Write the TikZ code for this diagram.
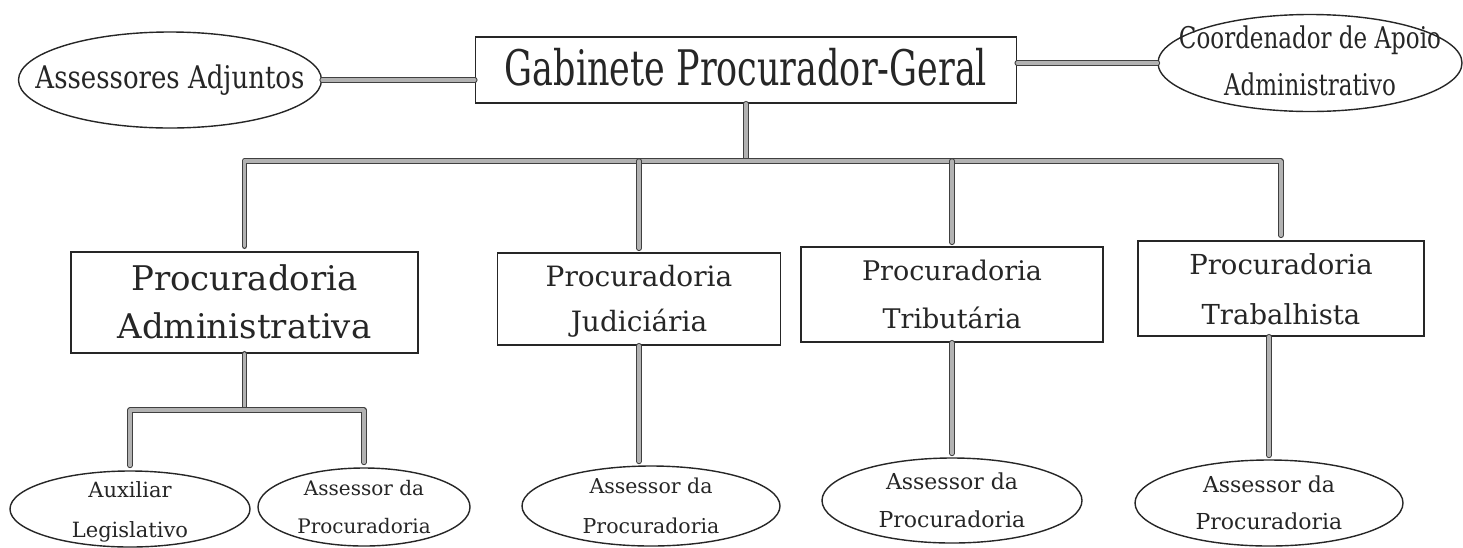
\documentclass[tikz,border=0pt]{standalone}
\usepackage{fontspec}
\usepackage{graphicx}
\setmainfont{DejaVu Serif}
\usetikzlibrary{shapes.geometric}
% #1 size, #2 line spacing, #3 vertical stretch, #4 text
\newcommand{\lbl}[4]{{\fontsize{#1}{#2}\selectfont\makebox[0pt]{\smash{\raisebox{-#3\dimexpr.25em\relax}{\scalebox{1}[#3]{\begin{tabular}{@{}c@{}}#4\end{tabular}}}}}}}
\tikzset{
  boxnode/.style={draw=black!85, line width=1.6pt, rectangle, inner sep=0pt, text=black!85},
  ellnode/.style={draw=black!85, line width=1.4pt, ellipse, inner sep=0pt, text=black!85},
  conn/.style={draw=black!75, line width=1.1pt, double=black!30, double distance=3.5pt, line cap=round, line join=round},
  gap/.style={shorten >=4pt}
}
\begin{document}
\begin{tikzpicture}[x=1pt,y=-1pt]
\useasboundingbox[fill=white] (0,0) rectangle (1463,547);
% top row
\node[boxnode, minimum width=541pt, minimum height=66pt] (gab) at (746,70) {\lbl{35}{42}{1.4}{Gabinete Procurador-Geral}};
\node[ellnode, minimum width=303pt, minimum height=96pt] (aa) at (170,80) {\lbl{26}{32}{1.2}{Assessores Adjuntos}};
\node[ellnode, minimum width=304pt, minimum height=97pt] (coord) at (1310,63) {\lbl{23}{36}{1.3}{Coordenador de Apoio\\Administrativo}};
% second row
\node[boxnode, minimum width=347pt, minimum height=101pt] (adm) at (244.5,302.5) {\lbl{34}{48}{1}{Procuradoria\\Administrativa}};
\node[boxnode, minimum width=283pt, minimum height=92pt] (jud) at (639,299) {\lbl{28}{45}{1}{Procuradoria\\Judiciária}};
\node[boxnode, minimum width=302pt, minimum height=95pt] (trib) at (952,294.5) {\lbl{27}{48}{1}{Procuradoria\\Tributária}};
\node[boxnode, minimum width=286pt, minimum height=95pt] (trab) at (1281,288.5) {\lbl{27.5}{50}{1}{Procuradoria\\Trabalhista}};
% bottom row
\node[ellnode, minimum width=240pt, minimum height=76pt] (aux) at (130,509) {\lbl{21}{40}{1}{Auxiliar\\Legislativo}};
\node[ellnode, minimum width=212pt, minimum height=78pt] (asadm) at (364,507) {\lbl{20}{38}{1}{Assessor da\\Procuradoria}};
\node[ellnode, minimum width=258pt, minimum height=80pt] (asjud) at (651,506) {\lbl{20.5}{40}{1}{Assessor da\\Procuradoria}};
\node[ellnode, minimum width=260pt, minimum height=85pt] (astrib) at (952,500.5) {\lbl{22}{38}{1}{Assessor da\\Procuradoria}};
\node[ellnode, minimum width=268pt, minimum height=86pt] (astrab) at (1269,503) {\lbl{22}{37}{1}{Assessor da\\Procuradoria}};
% junction points
\coordinate (bus) at (746,161);
\coordinate (sub) at (244.5,410);
% connectors
\draw[conn] (aa.east) -- (aa.east -| gab.west);
\draw[conn] (gab.east |- coord.west) -- (coord.west);
\draw[conn] (gab.south) -- (bus);
\draw[conn, shorten <=5pt, shorten >=5pt] (adm.north) |- (bus) -| (trab.north);
\draw[conn, gap] (jud.north |- bus) -- (jud.north);
\draw[conn, gap] (trib.north |- bus) -- (trib.north);
\draw[conn] (adm.south) -- (sub);
\draw[conn, shorten <=5pt, shorten >=5pt] (aux.north) |- (sub) -| (asadm.north);
\draw[conn, gap] (jud.south) -- (jud.south |- asjud.north);
\draw[conn, gap] (trib.south) -- (astrib.north);
\draw[conn, gap] (astrab.north |- trab.south) -- (astrab.north);
\end{tikzpicture}
\end{document}
